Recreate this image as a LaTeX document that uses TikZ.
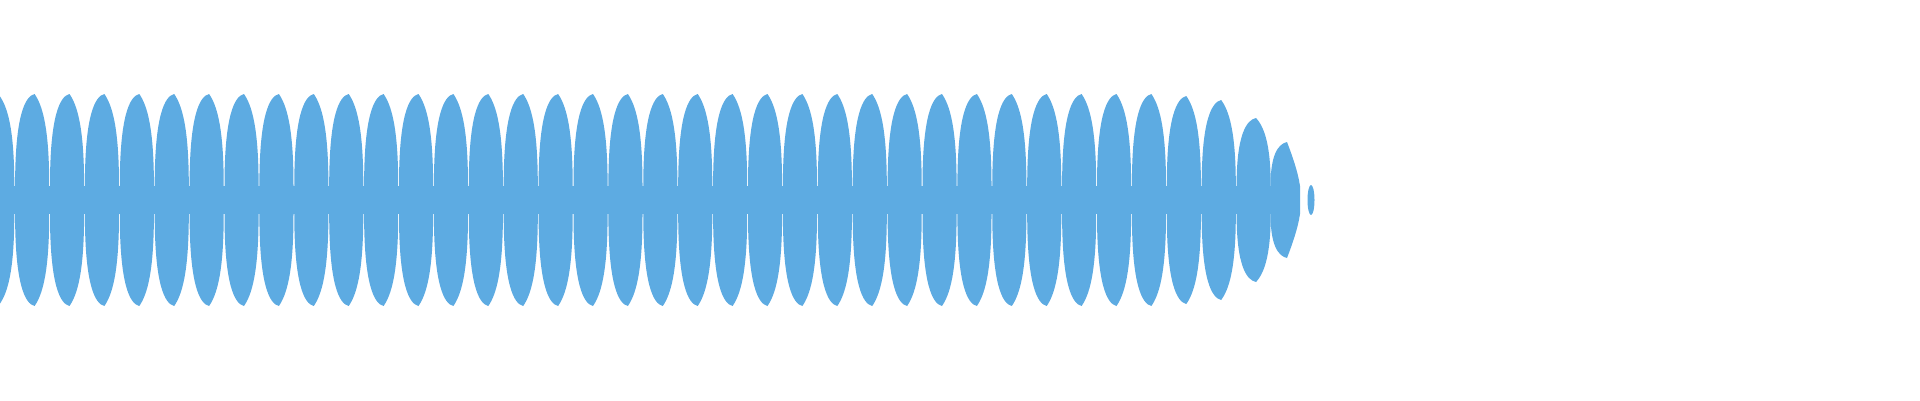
\documentclass[tikz,border=0pt]{standalone}
\definecolor{wave}{RGB}{93,171,226}
\begin{document}
\begin{tikzpicture}[x=1pt,y=-1pt,wavefill/.style={fill=wave,draw=none}]
\useasboundingbox (0,0) rectangle (1920,400);
\begin{scope}
\clip (0,0) rectangle (1920,400);
\def\c{200}
\def\h{14}
\fill[wave] (0,\c-\h) rectangle (1300,\c+\h);
\foreach \k/\A in {-1/104,0/106,1/106,2/106,3/106,4/106,5/106,6/106,7/106,8/106,9/106,10/106,11/106,12/106,13/106,14/106,15/106,16/106,17/106,18/106,19/106,20/106,21/106,22/106,23/106,24/106,25/106,26/106,27/106,28/106,29/106,30/106,31/106,32/106,33/104,34/100,35/82} {
  \pgfmathsetmacro{\xa}{14.7+34.9*\k}
  \pgfmathsetmacro{\p}{34.9}
  \path[wavefill] (\xa+0.4,\c-\h)
    .. controls (\xa+0.3,\c-0.8*\A) and (\xa+0.3*\p,\c-0.98*\A) .. (\xa+0.57*\p,\c-\A)
    .. controls (\xa+0.78*\p,\c-0.9*\A) and (\xa+\p-0.3,\c-0.7*\A) .. (\xa+\p-0.4,\c-\h)
    -- (\xa+\p-0.4,\c+\h)
    .. controls (\xa+\p-0.3,\c+0.7*\A) and (\xa+0.78*\p,\c+0.9*\A) .. (\xa+0.57*\p,\c+\A)
    .. controls (\xa+0.3*\p,\c+0.98*\A) and (\xa+0.3,\c+0.8*\A) .. (\xa+0.4,\c+\h) -- cycle;
}
\path[wavefill] (1270.5,\c-\h)
    .. controls (1270.5,\c-45) and (1278,\c-56) .. (1287,\c-58)
    .. controls (1292,\c-45) and (1298,\c-28) .. (1300,\c-\h)
    -- (1300,\c+\h)
    .. controls (1298,\c+28) and (1292,\c+45) .. (1287,\c+58)
    .. controls (1278,\c+56) and (1270.5,\c+45) .. (1270.5,\c+\h) -- cycle;
\fill[wave] (1311,\c) ellipse [x radius=3.5, y radius=15];
\end{scope}
\end{tikzpicture}
\end{document}
